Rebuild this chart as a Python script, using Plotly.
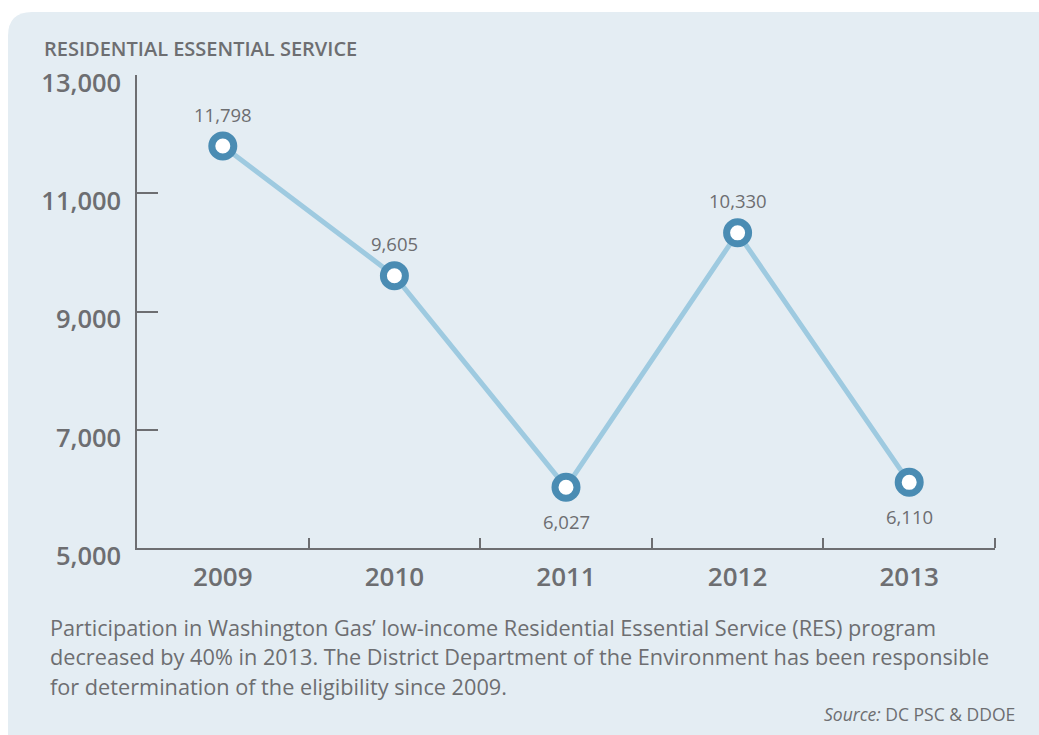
import plotly.graph_objects as go

years = ["2009", "2010", "2011", "2012", "2013"]
participants = [11798, 9605, 6027, 10330, 6110]
label_above = [True, True, False, True, False]
y_ticks = [5000, 7000, 9000, 11000, 13000]
y_tick_text = ["5,000", "7,000", "9,000", "11,000", "13,000"]
caption_lines = [
    "Participation in Washington Gas’ low-income Residential Essential Service (RES) program",
    "decreased by 40% in 2013. The District Department of the Environment has been responsible",
    "for determination of the eligibility since 2009.",
]

W, H = 1039, 735
L, R, T, B = 137, 995, 75, 548
GRAY = "#6d6e71"
FONT = "Open Sans"

def px(x):
    return (x - L) / (R - L)

def py(y):
    return (B - y) / (B - T)

# rounded background panel path in paper coords
x0, x1, y0, y1, r = 8, 1060, 12, 760, 24
path = (f"M {px(x0 + r)} {py(y0)} L {px(x1)} {py(y0)} L {px(x1)} {py(y1)} "
        f"L {px(x0 + r)} {py(y1)} Q {px(x0)} {py(y1)} {px(x0)} {py(y1 - r)} "
        f"L {px(x0)} {py(y0 + r)} Q {px(x0)} {py(y0)} {px(x0 + r)} {py(y0)} Z")

xs = list(range(len(years)))

fig = go.Figure()
fig.add_trace(go.Scatter(
    x=xs, y=participants, mode="lines+markers",
    line=dict(color="#9ecae0", width=5),
    marker=dict(size=22, color="white", line=dict(color="#4a8cb3", width=7)),
    cliponaxis=False, hoverinfo="skip", showlegend=False,
))

annotations = [
    dict(x=x, y=v, text=f"{v:,}", xref="x", yref="y", showarrow=False,
         yshift=32 if up else -34, xanchor="center", yanchor="middle",
         font=dict(family=FONT, size=18.5, color=GRAY))
    for x, v, up in zip(xs, participants, label_above)
]
annotations.append(
    dict(text="RESIDENTIAL ESSENTIAL SERVICE", x=px(42), y=py(48), xref="paper", yref="paper",
         xanchor="left", yanchor="middle", showarrow=False,
         font=dict(family=FONT, size=20, color=GRAY, weight=600)))
for i, line in enumerate(caption_lines):
    annotations.append(
        dict(text=line, x=px(48), y=py(627 + 29.5 * i), xref="paper", yref="paper",
             xanchor="left", yanchor="middle", align="left", showarrow=False,
             font=dict(family=FONT, size=21.7, color=GRAY)))
annotations.append(
    dict(text="<i>Source:</i> DC PSC & DDOE", x=px(1017), y=py(714), xref="paper", yref="paper",
         xanchor="right", yanchor="middle", showarrow=False,
         font=dict(family=FONT, size=17.5, color=GRAY)))

fig.update_layout(
    width=W, height=H,
    margin=dict(l=L, r=W - R, t=T, b=H - B, autoexpand=False),
    paper_bgcolor="white", plot_bgcolor="rgba(0,0,0,0)",
    shapes=[dict(type="path", path=path, xref="paper", yref="paper",
                 fillcolor="#e4edf3", line=dict(width=0), layer="below")],
    xaxis=dict(
        range=[-0.5, 4.5], tickvals=xs, ticktext=years, ticks="",
        showline=True, linecolor="#6d6e71", linewidth=1.5, showgrid=False, zeroline=False,
        tickfont=dict(family=FONT, size=26, color=GRAY, weight=600),
        ticklabelstandoff=5,
        minor=dict(tickvals=[0.5, 1.5, 2.5, 3.5, 4.5], ticks="inside", ticklen=10,
                   tickcolor="#6d6e71", tickwidth=1.5, showgrid=False),
    ),
    yaxis=dict(
        range=[5000, 13000], tickvals=y_ticks, ticktext=y_tick_text,
        ticks="inside", ticklen=21, tickcolor="#6d6e71", tickwidth=1.5,
        showline=True, linecolor="#6d6e71", linewidth=1.5, showgrid=False, zeroline=False,
        tickfont=dict(family=FONT, size=25.5, color=GRAY, weight=600),
        ticklabelstandoff=9, ticklabelshift=8,
    ),
    annotations=annotations,
)

fig.write_html("out.html")
